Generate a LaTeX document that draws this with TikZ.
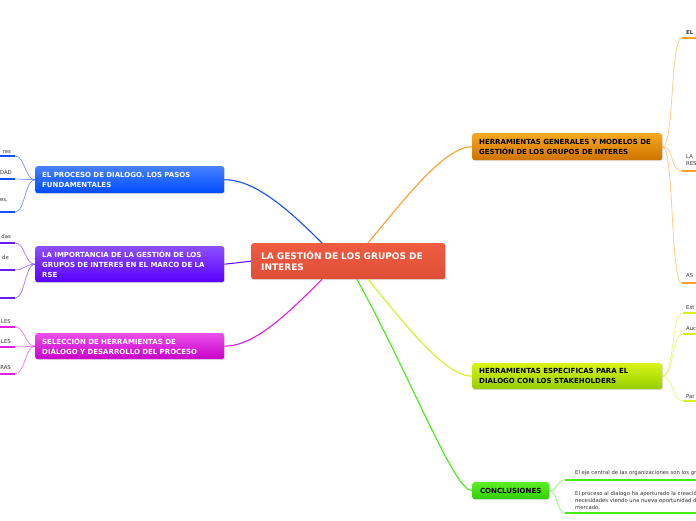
\documentclass[tikz,border=0pt]{standalone}
\usepackage{fontspec}
\setmainfont{DejaVu Sans}
\usetikzlibrary{shadows}
\definecolor{cred1}{RGB}{238,92,66}
\definecolor{cred2}{RGB}{222,78,54}
\definecolor{cblue1}{RGB}{70,130,255}
\definecolor{cblue2}{RGB}{0,75,255}
\definecolor{cblue}{RGB}{20,80,255}
\definecolor{cpur1}{RGB}{140,80,255}
\definecolor{cpur2}{RGB}{90,0,255}
\definecolor{cpur}{RGB}{105,25,255}
\definecolor{cmag1}{RGB}{235,80,235}
\definecolor{cmag2}{RGB}{200,0,200}
\definecolor{cmag}{RGB}{225,30,225}
\definecolor{cora1}{RGB}{248,168,30}
\definecolor{cora2}{RGB}{205,115,0}
\definecolor{cora}{RGB}{255,160,40}
\definecolor{cyel1}{RGB}{215,245,20}
\definecolor{cyel2}{RGB}{150,205,0}
\definecolor{cyel}{RGB}{215,240,30}
\definecolor{cgre1}{RGB}{90,240,40}
\definecolor{cgre2}{RGB}{50,205,0}
\definecolor{cgre}{RGB}{70,235,20}
\definecolor{ctxt}{RGB}{50,50,50}
\tikzset{
  topic/.style={rounded corners=2.5pt, anchor=north west, align=left, inner xsep=7pt, inner ysep=0pt,
    font=\fontsize{7}{10}\selectfont\bfseries,
    drop shadow={shadow xshift=0.7pt, shadow yshift=-0.9pt, opacity=0.25}},
  conn/.style={line width=1.1pt},
  subc/.style={line width=0.7pt, opacity=0.6},
  ul/.style={line width=2.6pt},
  lt/.style={font=\fontsize{5.3}{7}\selectfont, text=ctxt, inner sep=0pt},
}
\begin{document}
\begin{tikzpicture}[x=1pt,y=-1pt]
\path[use as bounding box] (0,0) rectangle (696,520);
\clip (0,0) rectangle (696,520);
\fill[white] (0,0) rectangle (696,520);

% central node
\node[topic, top color=cred1, bottom color=cred2, text=white, inner xsep=10pt,
  text width=174pt, minimum height=36pt, font=\fontsize{9}{11}\selectfont\bfseries]
  (c) at (251,243) {LA GESTIÓN DE LOS GRUPOS DE\\INTERES};

% main topics
\node[topic, top color=cblue1, bottom color=cblue2, text=white, text width=175pt, minimum height=27pt]
  (b1) at (35,166) {EL PROCESO DE DIALOGO. LOS PASOS\\FUNDAMENTALES};
\node[topic, top color=cpur1, bottom color=cpur2, text=white, text width=175pt, minimum height=36pt]
  (b2) at (35,246) {LA IMPORTANCIA DE LA GESTIÓN DE LOS\\GRUPOS DE INTERES EN EL MARCO DE LA\\RSE};
\node[topic, top color=cmag1, bottom color=cmag2, text=white, text width=175pt, minimum height=26pt]
  (b3) at (35,333) {SELECCIÓN DE HERRAMIENTAS DE\\DIÁLOGO Y DESARROLLO DEL PROCESO};
\node[topic, top color=cora1, bottom color=cora2, text=black, text width=176pt, minimum height=27pt]
  (o1) at (472,133) {HERRAMIENTAS GENERALES Y MODELOS DE\\GESTIÓN DE LOS GRUPOS DE INTERES};
\node[topic, top color=cyel1, bottom color=cyel2, text=black, text width=176pt, minimum height=26pt]
  (y1) at (472,363) {HERRAMIENTAS ESPECIFICAS PARA EL\\DIALOGO CON LOS STAKEHOLDERS};
\node[topic, top color=cgre1, bottom color=cgre2, text=black, align=center, inner xsep=0pt,
  text width=77pt, minimum height=17pt]
  (g1) at (472,482) {CONCLUSIONES};

% main connectors
\draw[conn, cblue] ([xshift=71pt]c.north west) .. controls +(-35,-35) and +(30,0) .. (b1.east);
\draw[conn, cpur] (c.west) -- (b2.east);
\draw[conn, cmag] ([xshift=71pt]c.south west) .. controls +(-35,35) and +(30,0) .. (b3.east);
\draw[conn, cora] ([xshift=117pt]c.north west) .. controls +(35,-42) and +(-28,0) .. (o1.west);
\draw[conn, cyel] ([xshift=117pt]c.south west) .. controls +(35,42) and +(-28,0) .. (y1.west);
\draw[conn, cgre] ([xshift=106pt]c.south west) .. controls +(55,100) and +(-18,0) .. (g1.west);

% blue subtopics
\coordinate (bl1) at (15,156);
\coordinate (bl2) at (15,179);
\coordinate (bl3) at (15,212);
\foreach \k in {1,2,3}{
  \draw[subc, cblue] (b1.west) .. controls +(-10,0) and +(10,0) .. (bl\k);
  \draw[ul, cblue] (bl\k) -- +(-20,0);
}
\node[lt, anchor=base east] (tb1) at (11,153) {res};
\node[lt, anchor=base east] (tb2) at (12,174.5) {DAD};
\node[lt, anchor=base east] (tb3) at (8,201.5) {es,};

% purple subtopics
\coordinate (pl1) at (15,243);
\coordinate (pl2) at (15,270);
\coordinate (pl3) at (15,298);
\foreach \k in {1,2,3}{
  \draw[subc, cpur] (b2.west) .. controls +(-10,0) and +(10,0) .. (pl\k);
  \draw[ul, cpur] (pl\k) -- +(-20,0);
}
\node[lt, anchor=base east] (tp1) at (11,238.5) {das};
\node[lt, anchor=base east] (tp2) at (9,259) {s de};

% magenta subtopics
\coordinate (ml1) at (15,327);
\coordinate (ml2) at (15,347);
\coordinate (ml3) at (15,374);
\foreach \k in {1,2,3}{
  \draw[subc, cmag] (b3.west) .. controls +(-10,0) and +(10,0) .. (ml\k);
  \draw[ul, cmag] (ml\k) -- +(-20,0);
}
\node[lt, anchor=base east] (tm1) at (11,323) {LES};
\node[lt, anchor=base east] (tm2) at (11,343) {LES};
\node[lt, anchor=base east] (tm3) at (11,369.5) {RAS};

% orange subtopics
\coordinate (or1) at (682,38);
\coordinate (or2) at (682,171);
\coordinate (or3) at (682,283);
\foreach \k in {1,2,3}{
  \draw[subc, cora] (o1.east) .. controls +(12,0) and +(-12,0) .. (or\k);
  \draw[ul, cora] (or\k) -- +(20,0);
}
\node[lt, anchor=base west, font=\fontsize{5.3}{7}\selectfont\bfseries] (to1) at (686,34) {EL};
\node[lt, anchor=base west] (to2) at (686,158) {LA};
\node[lt, anchor=base west] (to2b) at (686,165) {RES};
\node[lt, anchor=base west] (to3) at (686,277.5) {AS};

% yellow subtopics
\coordinate (yr1) at (683,313);
\coordinate (yr2) at (683,334);
\coordinate (yr3) at (683,401);
\foreach \k in {1,2,3}{
  \draw[subc, cyel] (y1.east) .. controls +(12,0) and +(-12,0) .. (yr\k);
  \draw[ul, cyel] (yr\k) -- +(20,0);
}
\node[lt, anchor=base west] (ty1) at (686,309) {Est};
\node[lt, anchor=base west] (ty2) at (686,330) {Auc};
\node[lt, anchor=base west] (ty3) at (686,398.5) {Par};

% green subtopics
\coordinate (gr1) at (565,480);
\coordinate (gr2) at (565,513);
\foreach \k in {1,2}{
  \draw[subc, cgre] (g1.east) .. controls +(8,0) and +(-8,0) .. (gr\k);
  \draw[ul, cgre] (gr\k) -- +(140,0);
}
\node[lt, anchor=base west] (tg1) at (575,474) {El eje central de las organizaciones son los grupos};
\node[lt, anchor=base west] (tg2) at (575,495) {El proceso al dialogo ha aperturado la creación};
\node[lt, anchor=base west] (tg3) at (575,502) {necesidades viendo una nueva oportunidad de};
\node[lt, anchor=base west] (tg4) at (575,509) {mercado.};
\end{tikzpicture}
\end{document}
